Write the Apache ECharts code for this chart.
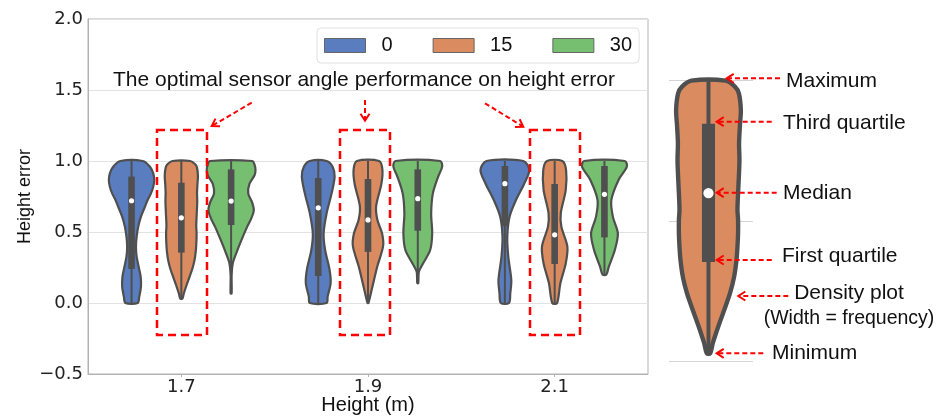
<!DOCTYPE html>
<html><head><meta charset="utf-8">
<script src="https://cdn.jsdelivr.net/npm/echarts@6/dist/echarts.min.js"></script>
<style>html,body{margin:0;padding:0;background:#fff}#c{width:948px;height:417px}</style>
</head><body><div id="c"></div>
<script>
// ---------- data ----------
const heights = ['1.7', '1.9', '2.1'];
const angles = ['0', '15', '30'];

// box statistics per angle (one value per height)
const q1Angle0 = [0.24, 0.19, 0.54];
const medAngle0 = [0.72, 0.67, 0.84];
const q3Angle0 = [0.89, 0.88, 0.965];
const minAngle0 = [0, 0, 0];
const maxAngle0 = [1, 1, 1];

const q1Angle15 = [0.355, 0.36, 0.275];
const medAngle15 = [0.60, 0.585, 0.48];
const q3Angle15 = [0.847, 0.873, 0.838];
const minAngle15 = [0.03, 0.0, 0.0];
const maxAngle15 = [1, 1, 1];

const q1Angle30 = [0.549, 0.509, 0.462];
const medAngle30 = [0.718, 0.735, 0.765];
const q3Angle30 = [0.941, 0.941, 0.965];
const minAngle30 = [0.068, 0.14, 0.2];
const maxAngle30 = [1, 1, 1];

// density profiles: [height error, density (half width)] from min to max
const densityAngle0 = [
  [[0,6.7],[0.045,8.3],[0.115,10],[0.185,9.7],[0.256,7.7],[0.326,5.7],[0.397,5],[0.467,5.7],[0.538,7.3],[0.608,10],[0.678,14],[0.725,16.7],[0.772,20],[0.819,22.3],[0.866,23.3],[0.913,22.3],[0.96,19],[1,11.7]],
  [[0,9],[0.045,10],[0.139,13],[0.232,12],[0.373,7.5],[0.49,6],[0.632,9],[0.772,14],[0.89,17],[0.96,15],[1,9]],
  [[0,4.7],[0.068,6],[0.162,7],[0.326,4],[0.467,3],[0.608,5.3],[0.725,11.7],[0.842,20],[0.937,25],[1,19]]
];
const densityAngle15 = [
  [[0.03,1.7],[0.065,3],[0.125,5.8],[0.184,8.8],[0.243,11.7],[0.302,13.8],[0.362,15],[0.409,15.5],[0.457,15.8],[0.504,15.8],[0.54,15.5],[0.599,15.8],[0.658,16.2],[0.718,16.5],[0.777,16.3],[0.836,16.7],[0.896,17.2],[0.955,16.2],[0.979,14.2],[1,9.5]],
  [[0,1],[0.115,5],[0.26,10],[0.4,15.7],[0.49,14.7],[0.584,10],[0.68,8.7],[0.84,14],[0.94,15],[1,11.7]],
  [[0,3],[0.139,6.3],[0.279,11.7],[0.397,13.3],[0.538,7.3],[0.632,6.7],[0.796,11.7],[0.937,12],[1,8.3]]
];
const densityAngle30 = [
  [[0.068,0.8],[0.2,1],[0.28,2.3],[0.35,5.7],[0.444,11],[0.538,16.7],[0.6,21],[0.655,23.3],[0.71,21.5],[0.772,17.7],[0.84,19],[0.9,24],[0.937,25],[0.975,24],[1,21.7]],
  [[0.14,0.5],[0.22,1.7],[0.28,6],[0.373,13],[0.49,15],[0.632,14],[0.772,15.7],[0.89,21],[0.96,25],[1,23]],
  [[0.2,2.5],[0.256,5],[0.373,11],[0.49,14],[0.608,9],[0.725,7.5],[0.866,14.7],[0.96,23],[1,21]]
];

// ---------- styles ----------
const COLORS = ['#597DBF', '#DA8B5F', '#76BF71'];
const GRAY = '#4f4f4f';
const RED = '#ff0000';
const NUM_FONT = 'DejaVu Sans';
const TXT_FONT = 'Liberation Sans';

function rows(q1, med, q3, mn, mx) {
  return q1.map((v, i) => [i, q1[i], med[i], q3[i], mn[i], mx[i]]);
}

function violinRenderer(shapes, color, hueIndex, hueCount) {
  return function (params, api) {
    const i = api.value(0);
    const shape = shapes[i];
    const k = api.size([0, 1])[1] / 142;
    const origin = api.coord([i, 0]);
    let cx = origin[0];
    if (hueCount) {
      const band = api.size([1, 0])[0];
      const slot = band * 0.8 / hueCount;
      cx += (hueIndex - (hueCount - 1) / 2) * slot;
    }
    const lw = 2.2 * k;
    const left = [], right = [];
    shape.forEach(function (p) {
      const y = api.coord([i, p[0]])[1];
      const hw = Math.max(p[1] * k - lw / 2 + 0.5, 0.5 * k);
      left.push([cx - hw, y]);
      right.push([cx + hw, y]);
    });
    const pts = left.concat(right.reverse());
    const yQ1 = api.coord([i, api.value(1)])[1];
    const yMed = api.coord([i, api.value(2)])[1];
    const yQ3 = api.coord([i, api.value(3)])[1];
    const yMin = api.coord([i, api.value(4)])[1];
    const yMax = api.coord([i, api.value(5)])[1];
    const bw = 6.6 * k;
    return {
      type: 'group',
      children: [
        { type: 'polygon', shape: { points: pts, smooth: 0.3 },
          style: { fill: color, stroke: GRAY, lineWidth: lw, lineJoin: 'round' } },
        { type: 'line', shape: { x1: cx, y1: yMin, x2: cx, y2: yMax },
          style: { stroke: GRAY, lineWidth: 2 * k } },
        { type: 'rect', shape: { x: cx - bw / 2, y: yQ3, width: bw, height: yQ1 - yQ3 },
          style: { fill: GRAY } },
        { type: 'circle', shape: { cx: cx, cy: yMed, r: 2.6 * k },
          style: { fill: '#ffffff' } }
      ]
    };
  };
}

function arrow(x1, y1, x2, y2) {
  const dx = x2 - x1, dy = y2 - y1, L = Math.hypot(dx, dy), ux = dx / L, uy = dy / L;
  const hl = 7, hw = 4.5;
  const bx = x2 - ux * hl, by = y2 - uy * hl;
  return [
    { type: 'line', z: 100, shape: { x1: x1, y1: y1, x2: x2 - ux * 1.5, y2: y2 - uy * 1.5 },
      style: { stroke: RED, lineWidth: 2, lineDash: [5, 3] } },
    { type: 'polyline', z: 100, shape: { points: [[bx - uy * hw, by + ux * hw], [x2, y2], [bx + uy * hw, by - ux * hw]] },
      style: { stroke: RED, lineWidth: 2, fill: null } }
  ];
}
function dashBox(x, y, w, h) {
  return { type: 'rect', z: 100, shape: { x: x, y: y, width: w, height: h },
    style: { fill: null, stroke: RED, lineWidth: 2.5, lineDash: [8, 5] } };
}
function label(text, x, y, size, align) {
  return { type: 'text', z: 100, x: x, y: y,
    style: { text: text, fill: '#111', font: size + 'px "' + TXT_FONT + '"', textAlign: align || 'left', textVerticalAlign: 'middle' } };
}

const graphics = [].concat(
  [label('The optimal sensor angle performance on height error', 113, 80.5, 21)],
  arrow(251.7, 102.7, 211.7, 126),
  arrow(365, 100, 365, 120.7),
  arrow(485, 103.3, 523.3, 126.7),
  [dashBox(157, 130, 50, 205), dashBox(340, 130, 50, 205), dashBox(530, 130, 50, 205)],
  [label('Maximum', 786, 81.7, 21), label('Third quartile', 783, 123.3, 21), label('Median', 783, 193.3, 21),
   label('First quartile', 782, 256.7, 21), label('Density plot', 849, 293.3, 21, 'center'),
   label('(Width = frequency)', 849, 318.3, 19.5, 'center'), label('Minimum', 772, 353.3, 21)],
  arrow(780, 78.3, 726.7, 78.3),
  arrow(771.7, 121.7, 716.7, 121.7),
  arrow(776.7, 192.7, 716.7, 192.7),
  arrow(771.7, 260, 716.7, 260),
  arrow(788.3, 296, 738.3, 296),
  arrow(763.3, 353.3, 716.7, 353.3)
);

const chart = echarts.init(document.getElementById('c'), null, { renderer: 'canvas' });
chart.setOption({
  animation: false,
  backgroundColor: '#ffffff',
  grid: [
    { left: 88, top: 19, width: 560, height: 355, show: true, borderColor: '#b3b3b3', borderWidth: 1,
      backgroundColor: 'transparent', containLabel: false, outerBoundsMode: 'none' },
    { left: 669, top: 80.7, width: 84, height: 281, containLabel: false, outerBoundsMode: 'none' }
  ],
  legend: {
    data: angles, left: 317, top: 28, orient: 'horizontal',
    itemWidth: 41, itemHeight: 14, itemGap: 40,
    padding: [6, 7, 6, 7],
    borderColor: '#e0e0e0', borderWidth: 1, borderRadius: 4, backgroundColor: 'rgba(255,255,255,0.85)',
    icon: 'rect',
    itemStyle: { borderColor: '#666', borderWidth: 1 },
    textStyle: { fontFamily: TXT_FONT, fontSize: 20, color: '#111', padding: [0, 0, 0, 11], lineHeight: 23 }
  },
  xAxis: [
    { type: 'category', data: heights, gridIndex: 0,
      name: 'Height (m)', nameLocation: 'middle', nameGap: 21, nameMoveOverlap: false,
      nameTextStyle: { fontFamily: TXT_FONT, fontSize: 20, color: '#111' },
      axisLine: { show: true, onZero: false, lineStyle: { color: '#b3b3b3' } },
      axisTick: { show: true, alignWithLabel: true, length: 3, lineStyle: { color: '#b3b3b3' } },
      axisLabel: { fontFamily: NUM_FONT, fontSize: 18, color: '#222', margin: 4 },
      splitLine: { show: false } },
    { type: 'value', gridIndex: 1, min: -0.47, max: 0.53, show: false }
  ],
  yAxis: [
    { type: 'value', gridIndex: 0, min: -0.5, max: 2.0, interval: 0.5,
      name: 'Height error', nameLocation: 'middle', nameGap: 54, nameMoveOverlap: false,
      nameTextStyle: { fontFamily: TXT_FONT, fontSize: 18, color: '#111' },
      axisLine: { show: true, lineStyle: { color: '#b3b3b3' } },
      axisTick: { show: false },
      axisLabel: { fontFamily: NUM_FONT, fontSize: 18, color: '#222', margin: 5,
        formatter: function (v) { return (v < 0 ? '\u2212' : '') + Math.abs(v).toFixed(1); } },
      splitLine: { show: true, lineStyle: { color: '#e2e2e2', width: 1 } } },
    { type: 'value', gridIndex: 1, min: 0, max: 1, interval: 0.5,
      axisLine: { show: false }, axisTick: { show: false }, axisLabel: { show: false },
      splitLine: { show: true, lineStyle: { color: '#d4d4d4', width: 1 } } }
  ],
  series: [
    { name: angles[0], type: 'custom', xAxisIndex: 0, yAxisIndex: 0, itemStyle: { color: COLORS[0] },
      renderItem: violinRenderer(densityAngle0, COLORS[0], 0, 3),
      data: rows(q1Angle0, medAngle0, q3Angle0, minAngle0, maxAngle0) },
    { name: angles[1], type: 'custom', xAxisIndex: 0, yAxisIndex: 0, itemStyle: { color: COLORS[1] },
      renderItem: violinRenderer(densityAngle15, COLORS[1], 1, 3),
      data: rows(q1Angle15, medAngle15, q3Angle15, minAngle15, maxAngle15) },
    { name: angles[2], type: 'custom', xAxisIndex: 0, yAxisIndex: 0, itemStyle: { color: COLORS[2] },
      renderItem: violinRenderer(densityAngle30, COLORS[2], 2, 3),
      data: rows(q1Angle30, medAngle30, q3Angle30, minAngle30, maxAngle30) },
    { name: 'example', type: 'custom', xAxisIndex: 1, yAxisIndex: 1, itemStyle: { color: COLORS[1] },
      renderItem: violinRenderer(densityAngle15, COLORS[1], 0, 0),
      data: rows(q1Angle15, medAngle15, q3Angle15, minAngle15, maxAngle15).slice(0, 1) }
  ],
  graphic: graphics
});
</script></body></html>
